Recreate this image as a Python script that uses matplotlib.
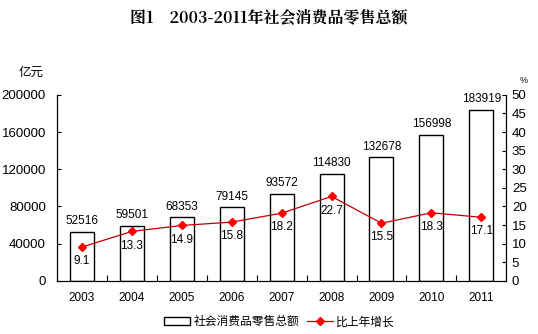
import numpy as np
import matplotlib
matplotlib.use("Agg")
import matplotlib.pyplot as plt
from matplotlib.ticker import FixedLocator

plt.rcParams['font.family'] = ['Liberation Sans', 'Noto Sans CJK SC', 'DejaVu Sans']

years = ['2003', '2004', '2005', '2006', '2007', '2008', '2009', '2010', '2011']
sales = [52516, 59501, 68353, 79145, 93572, 114830, 132678, 156998, 183919]
growth = [9.1, 13.3, 14.9, 15.8, 18.2, 22.7, 15.5, 18.3, 17.1]

x = np.arange(len(years))

fig = plt.figure(figsize=(5.38, 3.34), dpi=100)
ax = fig.add_axes([0.106, 0.159, 0.835, 0.557])
ax2 = ax.twinx()

# bars: total retail sales (100 million yuan)
bars = ax.bar(x, sales, width=0.48, color='white', edgecolor='black', linewidth=1.0,
              label='社会消费品零售总额', zorder=2)
for xi, v in zip(x, sales):
    ax.text(xi, v + 5000, str(v), ha='center', va='bottom', fontsize=8.5)

ax.set_xlim(-0.5, len(years) - 0.5)
ax.set_ylim(0, 200000)
ax.set_yticks(np.arange(0, 200001, 40000))
ax.set_xticks(x)
ax.set_xticklabels(years, fontsize=8.5)
ax.tick_params(axis='x', length=0, pad=8)
ax.xaxis.set_minor_locator(FixedLocator(np.arange(0.5, len(years) - 1, 1)))
ax.tick_params(axis='x', which='minor', direction='in', length=4, width=0.8)
ax.tick_params(axis='y', direction='in', length=3, labelsize=9.5, pad=8)
ax.spines['top'].set_visible(False)
ax.text(-0.085, 1.12, '亿元', transform=ax.transAxes, fontsize=9, ha='left', va='center')

# line: growth rate (%)
line, = ax2.plot(x, growth, color='#c00000', linewidth=0.9, marker='D', markersize=4,
                 markerfacecolor='#ff0000', markeredgecolor='#ff0000', label='比上年增长', zorder=3)
for xi, g in zip(x, growth):
    ax2.text(xi, g - 2.2, f'{g:.1f}', ha='center', va='top', fontsize=8.5)
ax2.set_ylim(0, 50)
ax2.set_yticks(np.arange(0, 51, 5))
ax2.tick_params(axis='y', direction='in', length=3, labelsize=9.5, pad=4)
ax2.spines['top'].set_visible(False)
ax2.text(1.038, 1.075, '%', transform=ax2.transAxes, fontsize=6.5, ha='center', va='center')

fig.text(0.5, 0.948, '图1    2003-2011年社会消费品零售总额', ha='center', va='center',
         fontsize=11.5, fontweight='bold', family=['Noto Serif CJK SC', 'Noto Sans CJK SC', 'DejaVu Sans'])

fig.legend([bars, line], ['社会消费品零售总额', '比上年增长'], loc='center',
           bbox_to_anchor=(0.52, 0.035), ncol=2, frameon=False, fontsize=8.5,
           handlelength=2.2, handletextpad=0.3, columnspacing=0.6)

fig.savefig('out.png', dpi=100)
